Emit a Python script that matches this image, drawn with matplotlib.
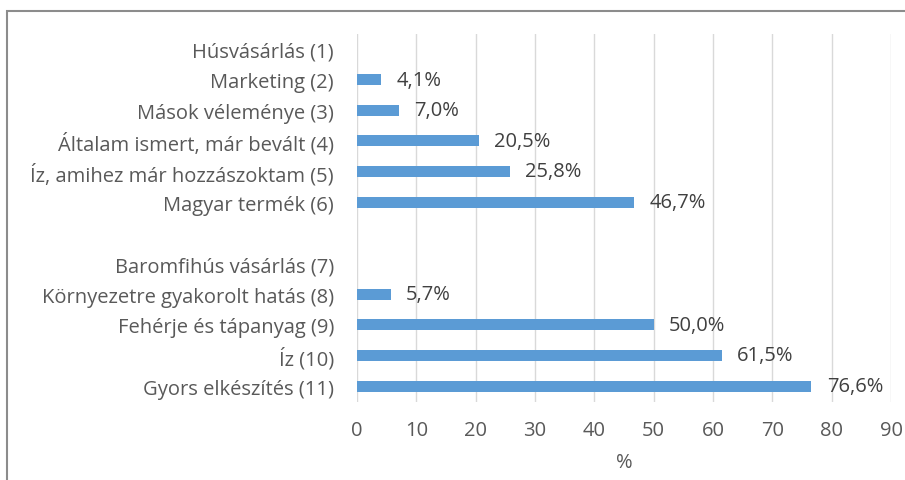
import matplotlib
matplotlib.use("Agg")
import matplotlib.pyplot as plt
from matplotlib.patches import Rectangle

categories = [
    "Húsvásárlás (1)",
    "Marketing (2)",
    "Mások véleménye (3)",
    "Általam ismert, már bevált (4)",
    "Íz, amihez már hozzászoktam (5)",
    "Magyar termék (6)",
    "",
    "Baromfihús vásárlás (7)",
    "Környezetre gyakorolt hatás (8)",
    "Fehérje és tápanyag (9)",
    "Íz (10)",
    "Gyors elkészítés (11)",
]
values = [None, 4.1, 7.0, 20.5, 25.8, 46.7, None, None, 5.7, 50.0, 61.5, 76.6]
x_ticks = [0, 10, 20, 30, 40, 50, 60, 70, 80, 90]
x_label = "%"

BAR = "#5B9BD5"
TXT = "#595959"
GRID = "#D9D9D9"
FS = 14.5

plt.rcParams["font.family"] = ["Open Sans", "DejaVu Sans"]

fig = plt.figure(figsize=(9.05, 4.81), dpi=100)
ax = fig.add_axes([357 / 905, 1 - 402.5 / 481, (891 - 357) / 905, (402.5 - 34.5) / 481])

ys = list(range(len(categories)))
for y, v in zip(ys, values):
    if v is None:
        continue
    ax.barh(y, v, height=0.36, color=BAR, zorder=3)
    ax.annotate(f"{v:.1f}%".replace(".", ","), xy=(v, y), xytext=(11, 0),
                textcoords="offset points", va="center", ha="left",
                fontsize=FS, color="#404040")

ax.set_ylim(len(categories) - 0.5, -0.5)
ax.set_xlim(0, 90)
ax.set_yticks(ys)
ax.set_yticklabels(categories, fontsize=FS, color=TXT)
ax.set_xticks(x_ticks)
ax.set_xticklabels([str(t) for t in x_ticks], fontsize=FS, color=TXT)
ax.tick_params(axis="both", length=0)
ax.tick_params(axis="y", pad=16.5)
ax.tick_params(axis="x", pad=13)
ax.set_xlabel(x_label, fontsize=FS, color=TXT, labelpad=9)
for s in ax.spines.values():
    s.set_visible(False)
ax.grid(axis="x", color=GRID, linewidth=1, zorder=0)
ax.set_axisbelow(True)

fig.patches.append(Rectangle((7 / 905, -0.1), 1.2, 1 - 12 / 481 + 0.1,
                             transform=fig.transFigure, fill=False,
                             edgecolor="#8C8C8C", linewidth=1.5))

fig.savefig("out.png", dpi=100)
